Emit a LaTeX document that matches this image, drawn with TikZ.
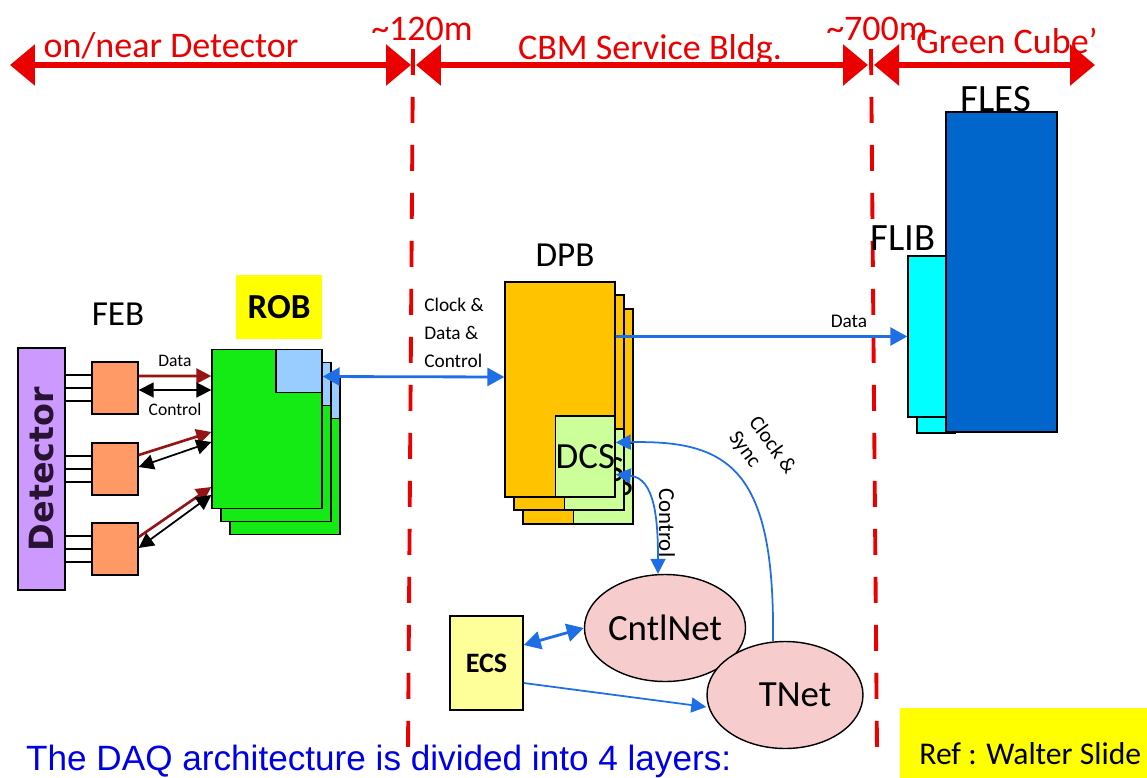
\documentclass[tikz,border=0pt]{standalone}
\usepackage{fontspec}
\setmainfont{Carlito}
\newfontfamily\arialfont{Liberation Sans}
\newfontfamily\dejavufont{DejaVu Sans}
\usetikzlibrary{positioning, arrows.meta, shapes.geometric}

\definecolor{detpurple}{RGB}{204,153,255}
\definecolor{feborange}{RGB}{255,153,102}
\definecolor{robgreen}{RGB}{20,235,20}
\definecolor{lnkblue}{RGB}{153,204,255}
\definecolor{dpborange}{RGB}{255,195,0}
\definecolor{dcsgreen}{RGB}{204,255,153}
\definecolor{flibcyan}{RGB}{0,255,255}
\definecolor{flesblue}{RGB}{0,102,204}
\definecolor{netpink}{RGB}{246,204,204}
\definecolor{ecsyellow}{RGB}{255,255,153}
\definecolor{tagyellow}{RGB}{255,255,0}
\definecolor{arrowblue}{RGB}{30,110,230}
\definecolor{topred}{RGB}{235,0,0}
\definecolor{datared}{RGB}{150,20,20}
\definecolor{daqblue}{RGB}{0,0,230}
\definecolor{detink}{RGB}{40,20,50}

\begin{document}
\begin{tikzpicture}[x=0.02cm, y=-0.02cm,
        box/.style={draw=black, line width=0.8pt, inner sep=0pt},
        detbox/.style={box, fill=detpurple, minimum width=0.94cm, minimum height=4.84cm},
        dettext/.style={text=detink, font=\dejavufont\bfseries\fontsize{19}{22}\selectfont},
        febbox/.style={box, fill=feborange, minimum width=0.92cm, minimum height=1.04cm},
        robbox/.style={box, fill=robgreen, minimum width=2.2cm, minimum height=3.18cm},
        lnkbox/.style={box, fill=lnkblue, minimum width=0.92cm, minimum height=0.86cm, anchor=north east},
        robtag/.style={fill=tagyellow, minimum width=1.72cm, minimum height=1.3cm, font=\bfseries\fontsize{20}{24}\selectfont},
        dpbbox/.style={box, fill=dpborange, minimum width=2.2cm, minimum height=4.3cm},
        dcsbox/.style={box, fill=dcsgreen, minimum width=1.12cm, minimum height=1.62cm, anchor=south east, font=\fontsize{21}{24}\selectfont},
        flibbox/.style={box, fill=flibcyan, minimum width=0.76cm, minimum height=3.22cm},
        flesbox/.style={box, fill=flesblue, minimum width=2.22cm, minimum height=6.4cm},
        ecsbox/.style={box, fill=ecsyellow, minimum width=1.46cm, minimum height=1.88cm, font=\bfseries\fontsize{16}{19}\selectfont},
        net/.style={ellipse, draw=black, line width=0.8pt, fill=netpink, minimum width=3.12cm, minimum height=2.14cm, inner sep=0pt, font=\fontsize{21}{24}\selectfont},
        lbl/.style={font=\fontsize{20}{24}\selectfont},
        big/.style={font=\fontsize{22}{26}\selectfont},
        small/.style={font=\fontsize{10}{12}\selectfont},
        toplbl/.style={text=topred, font=\fontsize{20.5}{24}\selectfont},
        dist/.style={draw=topred, line width=3.4pt, {Triangle[length=0.5cm,width=0.8cm]}-{Triangle[length=0.5cm,width=0.8cm]}},
        zone/.style={draw=topred, line width=2.2pt, dash pattern=on 0.52cm off 0.44cm},
        wire/.style={draw=black, line width=0.8pt},
        datarrow/.style={draw=datared, line width=1.5pt, -{Triangle[length=0.3cm,width=0.3cm]}},
        ctlarrow/.style={draw=black, line width=1pt, {Triangle[length=0.3cm,width=0.3cm]}-{Triangle[length=0.3cm,width=0.3cm]}},
        bus/.style={draw=arrowblue, line width=1.6pt, -{Triangle[length=0.34cm,width=0.36cm]}},
        sig/.style={draw=arrowblue, line width=1pt, -{Triangle[length=0.3cm,width=0.3cm]}}
    ]
    \useasboundingbox (0,0) rectangle (1147,778);

    \coordinate (a0) at (10,65);
    \coordinate (a1) at (411,65);
    \coordinate (b0) at (416,65);
    \coordinate (b1) at (868,65);
    \coordinate (c0) at (874,65);
    \coordinate (c1) at (1095,65);
    \draw[dist] (a0) -- (a1);
    \draw[dist] (b0) -- (b1);
    \draw[dist] (c0) -- (c1);
    \node[toplbl, anchor=base] (near) at (171,57) {on/near Detector};
    \node[toplbl, anchor=base] (bldg) at (650,59) {CBM Service Bldg.};
    \node[toplbl, anchor=base] (cube) at (1003,53) {{'}Green Cube{'}};
    \node[toplbl, anchor=base] (d120) at (422,40) {\textasciitilde120m};
    \node[toplbl, anchor=base] (d700) at (877,40) {\textasciitilde700m};

    \coordinate (z1a) at (413,49);
    \coordinate (z1b) at (408,752);
    \coordinate (z2a) at (871,49);
    \coordinate (z2b) at (877,750);
    \draw[zone] (z1a) -- (z1b);
    \draw[zone] (z2a) -- (z2b);

    \node[detbox] (det) at (41.5,469) {};
    \node[dettext, rotate=90] (dettxt) at (det.center) {Detector};
    \node[febbox] (feb1) at (115,388) {};
    \node[febbox] (feb2) at (115,469) {};
    \node[febbox] (feb3) at (115,549) {};
    \node[lbl] (feblbl) at (118,314) {FEB};
    \foreach \f in {feb1,feb2,feb3}
        \foreach \d in {-0.26,0,0.26}
            {\path ([yshift=\d cm]\f.west) coordinate (w);
             \draw[wire] (w) -- (w -| det.east);}

    \node[robbox] (rob3) at (285,455) {};
    \node[lnkbox] (lnk3) at (rob3.north east) {};
    \node[robbox] (rob2) at (276,442) {};
    \node[lnkbox] (lnk2) at (rob2.north east) {};
    \node[robbox] (rob1) at (267,429) {};
    \node[lnkbox] (lnk1) at (rob1.north east) {};
    \node[robtag] (roblbl) at (279,307) {ROB};

    \draw[datarrow] ([yshift=0.24cm]feb1.east) -- ([yshift=1.06cm]rob1.west) node[midway, above=1pt, small] (datalbl) {Data};
    \draw[ctlarrow] ([yshift=-0.04cm]feb1.east) -- ([yshift=0.78cm]rob1.west) node[midway, below=4pt, small] (ctllbl) {Control};
    \draw[datarrow] ([yshift=0.28cm]feb2.east) -- ([yshift=-0.06cm]rob1.west);
    \draw[ctlarrow] ([yshift=0.04cm]feb2.east) -- ([yshift=-0.26cm]rob1.west);
    \draw[datarrow] ([yshift=0.24cm]feb3.east) -- ([yshift=-1.16cm]rob1.west);
    \draw[ctlarrow] ([yshift=0.02cm]feb3.east) -- ([yshift=-1.32cm]rob1.west);

    \node[dpbbox] (dpb3) at (578,416.5) {};
    \node[dcsbox] (dcs3) at (dpb3.south east) {DCS};
    \node[dpbbox] (dpb2) at (569,402.5) {};
    \node[dcsbox] (dcs2) at (dpb2.south east) {DCS};
    \node[dpbbox] (dpb1) at (560,389.5) {};
    \node[dcsbox] (dcs1) at (dpb1.south east) {DCS};
    \node[lbl] (dpblbl) at (565,255) {DPB};

    \draw[bus, {Triangle[length=0.34cm,width=0.36cm]}-{Triangle[length=0.34cm,width=0.36cm]}] ([yshift=-0.11cm]lnk1.east) -- ([yshift=0.25cm]dpb1.west);
    \node[font=\fontsize{11}{16}\selectfont, align=left] (cdc) at (454,333) {Clock \&\\Data \&\\Control};

    \node[flibbox] (flib2) at (936,352.5) {};
    \node[flibbox] (flib1) at (927,336.5) {};
    \node[flesbox] (fles) at (1001.5,272) {};
    \node[big] (fliblbl) at (903,238) {FLIB};
    \node[big] (fleslbl) at (996,99) {FLES};
    \draw[bus] ([yshift=1.06cm]dpb1.east) -- (flib1.west) node[pos=0.8, above=1pt, font=\fontsize{11}{13}\selectfont] (datalbl2) {Data};

    \node[ecsbox] (ecs) at (486.5,663) {ECS};
    \node[net] (cntl) at (665,628) {CntlNet};
    \node[net] (tnet) at (785,695) {\hspace{0.4cm}TNet};
    \draw[bus, {Triangle[length=0.34cm,width=0.36cm]}-{Triangle[length=0.34cm,width=0.36cm]}] ([yshift=0.36cm]ecs.east) -- (cntl.west);
    \draw[sig] ([yshift=-0.4cm]ecs.east) -- ([yshift=-0.24cm]tnet.west);
    \draw[sig, {Triangle[length=0.3cm,width=0.3cm]}-{Triangle[length=0.3cm,width=0.3cm]}] ([yshift=-0.36cm]dcs1.east) .. controls (655,478) and (658,520) .. ([xshift=-0.14cm]cntl.north);
    \draw[sig] ([xshift=-0.24cm]tnet.north) .. controls (775,470) and (730,440) .. ([yshift=0.28cm]dcs1.east);
    \node[font=\fontsize{13}{15}\selectfont, rotate=-90] (ctlv) at (667,523) {Control};
    \node[font=\fontsize{12}{14}\selectfont, rotate=-54, align=left] (cslbl) at (762,453) {Clock \&\\Sync};

    \node[anchor=base west, text=daqblue, font=\arialfont\fontsize{20}{24}\selectfont] (daq) at (20,770) {The DAQ architecture is divided into 4 layers:};
    \node[fill=tagyellow, anchor=north west, minimum width=5.2cm, minimum height=1.8cm, font=\fontsize{18}{22}\selectfont] (ref) at (900,708) {Ref : Walter Slide};
\end{tikzpicture}
\end{document}
